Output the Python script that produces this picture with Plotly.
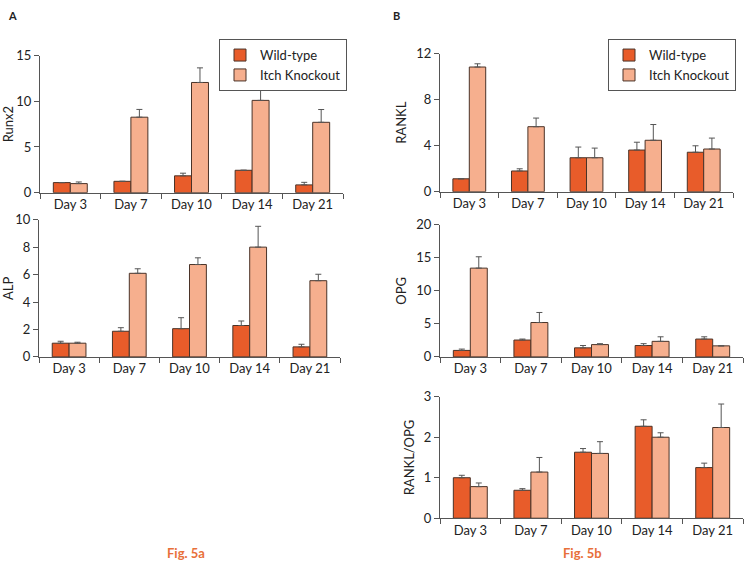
import plotly.graph_objects as go

days = ["Day 3", "Day 7", "Day 10", "Day 14", "Day 21"]
series_names = ["Wild-type", "Itch Knockout"]

runx2_wt = [1.10, 1.24, 1.84, 2.45, 0.85]
runx2_wt_err = [0.0, 0.0, 0.29, 0.0, 0.28]
runx2_ko = [0.99, 8.26, 12.06, 10.10, 7.70]
runx2_ko_err = [0.18, 0.85, 1.60, 1.25, 1.40]

alp_wt = [1.00, 1.87, 2.06, 2.29, 0.73]
alp_wt_err = [0.14, 0.26, 0.80, 0.33, 0.19]
alp_ko = [1.00, 6.10, 6.74, 8.01, 5.56]
alp_ko_err = [0.07, 0.33, 0.49, 1.52, 0.47]

rankl_wt = [1.12, 1.80, 2.95, 3.62, 3.43]
rankl_wt_err = [0.0, 0.19, 0.93, 0.68, 0.56]
rankl_ko = [10.84, 5.65, 2.95, 4.47, 3.71]
rankl_ko_err = [0.28, 0.75, 0.84, 1.37, 0.95]

opg_wt = [0.98, 2.55, 1.37, 1.72, 2.70]
opg_wt_err = [0.20, 0.15, 0.35, 0.28, 0.34]
opg_ko = [13.43, 5.20, 1.86, 2.35, 1.67]
opg_ko_err = [1.72, 1.52, 0.14, 0.69, 0.0]

ratio_wt = [1.00, 0.69, 1.63, 2.27, 1.25]
ratio_wt_err = [0.06, 0.04, 0.09, 0.16, 0.11]
ratio_ko = [0.78, 1.14, 1.60, 2.00, 2.24]
ratio_ko_err = [0.09, 0.36, 0.29, 0.11, 0.58]

W, H = 744, 568
WT_COLOR = "#E85C2A"
KO_COLOR = "#F6AF8E"
EDGE = "#4a3328"
AX = "#555555"
FONT = "Lato"

panels = [
    dict(title="Runx2", wt=runx2_wt, wte=runx2_wt_err, ko=runx2_ko, koe=runx2_ko_err,
         px=(40, 343), py=(49, 190), rng=[0, 15], dtick=5, legend="legend"),
    dict(title="ALP", wt=alp_wt, wte=alp_wt_err, ko=alp_ko, koe=alp_ko_err,
         px=(39, 340), py=(218, 359), rng=[0, 10], dtick=2, legend=None),
    dict(title="RANKL", wt=rankl_wt, wte=rankl_wt_err, ko=rankl_ko, koe=rankl_ko_err,
         px=(440, 733), py=(47, 189), rng=[0, 12], dtick=4, legend="legend2"),
    dict(title="OPG", wt=opg_wt, wte=opg_wt_err, ko=opg_ko, koe=opg_ko_err,
         px=(440, 743), py=(223, 359), rng=[0, 20], dtick=5, legend=None),
    dict(title="RANKL/OPG", wt=ratio_wt, wte=ratio_wt_err, ko=ratio_ko, koe=ratio_ko_err,
         px=(440, 743), py=(400, 525), rng=[0, 3], dtick=1, legend=None),
]

fig = go.Figure()
layout = {}
for i, p in enumerate(panels, start=1):
    xa = "x" if i == 1 else f"x{i}"
    ya = "y" if i == 1 else f"y{i}"
    for name, vals, errs, col in [(series_names[0], p["wt"], p["wte"], WT_COLOR),
                                  (series_names[1], p["ko"], p["koe"], KO_COLOR)]:
        fig.add_trace(go.Bar(
            x=days, y=vals, name=name, xaxis=xa, yaxis=ya,
            marker=dict(color=col, line=dict(color=EDGE, width=1)),
            error_y=dict(type="data", symmetric=False, array=errs,
                         arrayminus=[0] * len(errs), color=AX, thickness=1, width=3),
            showlegend=p["legend"] is not None,
            legend=p["legend"] if p["legend"] else "legend",
        ))
    xk = "xaxis" if i == 1 else f"xaxis{i}"
    yk = "yaxis" if i == 1 else f"yaxis{i}"
    layout[xk] = dict(
        domain=[p["px"][0] / W, p["px"][1] / W], anchor=ya,
        type="category", tickson="boundaries", ticks="outside", ticklen=5,
        tickcolor=AX, showline=True, linecolor=AX, linewidth=1,
        showgrid=False, zeroline=False, tickfont=dict(size=13, color="#222"),
        range=[-0.5, 4.5], fixedrange=True,
    )
    layout[yk] = dict(
        domain=[1 - p["py"][1] / H, 1 - p["py"][0] / H], anchor=xa,
        range=p["rng"], dtick=p["dtick"], ticks="outside", ticklen=5,
        tickcolor=AX, showline=True, linecolor=AX, linewidth=1,
        showgrid=False, zeroline=False, tickfont=dict(size=13, color="#222"),
        title=dict(text=p["title"], font=dict(size=13, color="#222"), standoff=6),
    )

legend_style = dict(bordercolor=AX, borderwidth=1, bgcolor="white",
                    font=dict(size=13, color="#222", family=FONT),
                    xanchor="left", yanchor="top", tracegroupgap=2, itemwidth=30)

fig.update_layout(
    **layout,
    width=W, height=H, margin=dict(l=0, r=0, t=0, b=0),
    paper_bgcolor="white", plot_bgcolor="white",
    font=dict(family=FONT, color="#222"),
    barmode="group", bargap=0.44, bargroupgap=0.0,
    legend=dict(x=219 / W, y=1 - 32 / H, **legend_style),
    legend2=dict(x=608 / W, y=1 - 32 / H, **legend_style),
    annotations=[
        dict(text="<b>A</b>", x=13 / W, y=1 - 8 / H, xref="paper", yref="paper",
             xanchor="center", yanchor="middle",
             showarrow=False, font=dict(size=11, color="#222")),
        dict(text="<b>B</b>", x=396 / W, y=1 - 8 / H, xref="paper", yref="paper",
             xanchor="center", yanchor="middle",
             showarrow=False, font=dict(size=11, color="#222")),
        dict(text="<b>Fig. 5a</b>", x=186 / W, y=1 - 561 / H, xref="paper", yref="paper",
             xanchor="center", yanchor="middle",
             showarrow=False, font=dict(size=13, color="#E8703A")),
        dict(text="<b>Fig. 5b</b>", x=582 / W, y=1 - 561 / H, xref="paper", yref="paper",
             xanchor="center", yanchor="middle",
             showarrow=False, font=dict(size=13, color="#E8703A")),
    ],
)

page_fix = (
    "document.documentElement.style.margin='0';"
    "document.documentElement.style.overflow='hidden';"
    "document.body.style.margin='0';"
    "document.body.style.overflow='hidden';"
    "var gd=document.getElementById('{plot_id}');"
    "gd.style.position='absolute';gd.style.left='0px';gd.style.top='0px';"
)

fig.write_html("out.html", config={"displayModeBar": False}, post_script=page_fix)
